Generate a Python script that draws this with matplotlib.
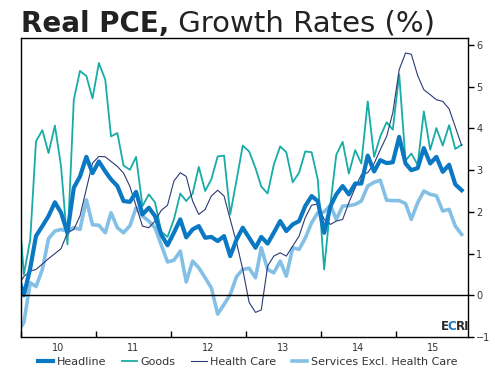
import numpy as np
import pandas as pd
import matplotlib
matplotlib.use("Agg")
import matplotlib.pyplot as plt
import matplotlib.dates as mdates
from matplotlib.font_manager import FontProperties

# monthly points, Dec 2009 .. Nov 2015 (first one is clipped by the axis)
months = pd.date_range("2009-12-01", periods=72, freq="MS") + pd.Timedelta(days=14)

headline = [0.5, 0.0, 0.65, 1.42, 1.66, 1.9, 2.23, 1.98, 1.5, 2.58, 2.85, 3.32,
            2.93, 3.21, 2.97, 2.78, 2.62, 2.26, 2.24, 2.48, 1.94, 2.10, 1.90, 1.45,
            1.20, 1.50, 1.82, 1.39, 1.58, 1.66, 1.38, 1.40, 1.30, 1.42, 0.94, 1.34,
            1.62, 1.38, 1.14, 1.40, 1.24, 1.50, 1.78, 1.54, 1.70, 1.78, 2.14, 2.38,
            2.26, 1.50, 2.14, 2.42, 2.62, 2.42, 2.68, 2.68, 3.35, 2.97, 3.24, 3.17,
            3.19, 3.80, 3.16, 3.00, 3.05, 3.53, 3.16, 3.32, 2.96, 3.13, 2.66, 2.52]

goods = [2.5, 0.50, 1.34, 3.69, 3.96, 3.41, 4.07, 3.09, 1.22, 4.69, 5.38, 5.26,
         4.72, 5.57, 5.17, 3.81, 3.89, 3.11, 3.01, 3.32, 2.14, 2.42, 2.23, 1.52,
         1.40, 1.82, 2.44, 2.26, 2.44, 3.08, 2.50, 2.78, 3.33, 3.35, 1.94, 2.77,
         3.59, 3.45, 3.05, 2.61, 2.44, 3.13, 3.57, 3.43, 2.71, 2.94, 3.45, 3.43,
         2.78, 0.62, 2.20, 3.37, 3.68, 2.92, 3.48, 3.16, 4.65, 3.32, 3.81, 4.15,
         3.97, 5.30, 3.23, 3.40, 3.13, 4.41, 3.49, 4.01, 3.59, 4.08, 3.51, 3.61]

health_care = [0.2, 0.45, 0.58, 0.62, 0.75, 0.88, 1.0, 1.12, 1.5, 1.58, 1.9, 2.55,
               3.17, 3.33, 3.32, 3.21, 3.09, 2.93, 2.61, 2.14, 1.66, 1.62, 1.78, 2.04,
               2.16, 2.74, 2.94, 2.85, 2.26, 1.94, 2.06, 2.38, 2.52, 2.38, 1.82, 1.26,
               0.62, -0.17, -0.41, -0.35, 0.70, 0.94, 1.02, 0.94, 1.18, 1.42, 1.86, 2.16,
               2.19, 1.82, 1.70, 1.78, 1.82, 2.22, 2.58, 2.89, 2.94, 3.16, 3.49, 3.81,
               4.38, 5.41, 5.81, 5.78, 5.27, 4.93, 4.81, 4.69, 4.65, 4.47, 4.04, 3.59]

services_ex_hc = [-0.9, -0.65, 0.30, 0.21, 0.62, 1.36, 1.54, 1.58, 1.54, 1.62, 1.58, 2.29,
                  1.69, 1.68, 1.50, 1.98, 1.62, 1.50, 1.67, 2.10, 1.90, 1.78, 1.62, 1.20,
                  0.80, 0.84, 1.06, 0.32, 0.82, 0.66, 0.42, 0.18, -0.45, -0.22, 0.02, 0.45,
                  0.62, 0.65, 0.42, 1.14, 0.62, 0.54, 0.82, 0.46, 1.14, 1.10, 1.37, 1.74,
                  1.98, 2.00, 2.16, 1.82, 2.14, 2.15, 2.18, 2.26, 2.62, 2.71, 2.76, 2.28,
                  2.27, 2.27, 2.20, 1.82, 2.22, 2.50, 2.42, 2.39, 2.02, 2.06, 1.66, 1.46]

year_labels = ["10", "11", "12", "13", "14", "15"]

fig = plt.figure(figsize=(4.95, 3.75), dpi=100)
ax = fig.add_axes([0.0424, 0.1013, 0.9031, 0.7974])

ax.plot(months, goods, color="#17aca6", lw=1.3, label="Goods")
ax.plot(months, services_ex_hc, color="#84c0e6", lw=2.6, label="Services Excl. Health Care")
ax.plot(months, health_care, color="#2b3a74", lw=0.8, label="Health Care")
ax.plot(months, headline, color="#0b78c3", lw=3.0, label="Headline")
ax.axhline(0, color="black", lw=1.0)

ax.set_xlim(pd.Timestamp("2010-01-01"), pd.Timestamp("2015-12-16"))
ax.set_ylim(-1, 6.17)

# year boundaries as small inward ticks, labels centred in each year
ax.xaxis.set_minor_locator(mdates.YearLocator(month=1))
mids = [pd.Timestamp(f"20{y}-07-01") for y in year_labels]
ax.set_xticks(mids)
ax.set_xticklabels(year_labels)
ax.tick_params(axis="x", which="major", length=0, labelsize=7, pad=4, colors="#333333")
ax.tick_params(axis="x", which="minor", direction="in", length=4, width=1)

ax.yaxis.tick_right()
ax.set_yticks(range(-1, 7))
ax.tick_params(axis="y", direction="out", length=4, width=1, labelsize=7,
               pad=2, colors="#333333")
ax.tick_params(axis="y", color="black")
for s in ax.spines.values():
    s.set_linewidth(1.0)

# ECRI mark, letters placed side by side (C in blue)
r = fig.canvas.get_renderer()
prop = FontProperties(size=8.5, weight="bold")
def text_w(s):
    return r.get_text_width_height_descent(s, prop, ismath=False)[0]
x_px = ax.bbox.x0 + 0.935 * ax.bbox.width
for pre, part, col in [("", "E", "#2a2a2a"), ("E", "C", "#1a78c2"), ("EC", "RI", "#2a2a2a")]:
    off = text_w(pre + part) - text_w(part) if pre else 1.5
    ax.text((x_px + off - ax.bbox.x0) / ax.bbox.width, 0.014, part,
            transform=ax.transAxes, fontproperties=prop, color=col,
            va="bottom", ha="left")

# title: bold part then regular part
tb = fig.text(0.042, 0.915, "Real PCE,", fontsize=20, fontweight="bold", color="#222222")
ax.annotate(" Growth Rates (%)", xy=(1, 0), xycoords=tb, va="bottom",
            fontsize=21, color="#222222", annotation_clip=False)

handles, labels = ax.get_legend_handles_labels()
order = [3, 0, 2, 1]
fig.legend([handles[i] for i in order], [labels[i] for i in order],
           loc="center", bbox_to_anchor=(0.5, 0.035), ncol=4, frameon=False,
           fontsize=8, handlelength=1.4, handletextpad=0.3, columnspacing=1.4,
           labelcolor="#333333")

fig.savefig("out.png", dpi=100)
